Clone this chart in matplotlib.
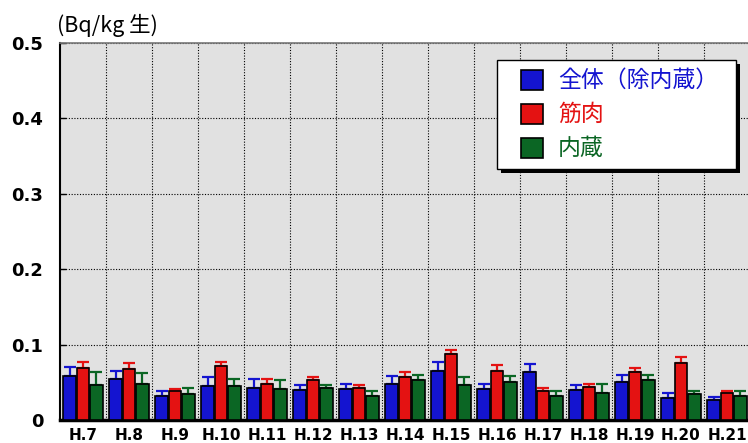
import matplotlib
matplotlib.use("Agg")
import matplotlib.pyplot as plt
from matplotlib.patches import Rectangle
import numpy as np

plt.rcParams['font.family'] = ['Noto Sans CJK JP', 'DejaVu Sans']

years = ['H.7', 'H.8', 'H.9', 'H.10', 'H.11', 'H.12', 'H.13', 'H.14',
         'H.15', 'H.16', 'H.17', 'H.18', 'H.19', 'H.20', 'H.21']

# whole body (excluding viscera)
whole = [0.058, 0.055, 0.032, 0.045, 0.042, 0.040, 0.041, 0.048,
         0.065, 0.041, 0.064, 0.040, 0.051, 0.029, 0.026]
whole_err = [0.012, 0.010, 0.006, 0.012, 0.012, 0.006, 0.007, 0.010,
             0.012, 0.007, 0.010, 0.006, 0.009, 0.007, 0.004]
# muscle
muscle = [0.069, 0.067, 0.038, 0.072, 0.048, 0.053, 0.042, 0.057,
          0.088, 0.065, 0.038, 0.044, 0.064, 0.076, 0.036]
muscle_err = [0.008, 0.008, 0.003, 0.005, 0.007, 0.004, 0.004, 0.007,
              0.005, 0.008, 0.005, 0.004, 0.005, 0.007, 0.002]
# viscera
viscera = [0.046, 0.048, 0.034, 0.045, 0.041, 0.042, 0.032, 0.053,
           0.046, 0.051, 0.032, 0.036, 0.053, 0.034, 0.032]
viscera_err = [0.018, 0.014, 0.008, 0.010, 0.012, 0.005, 0.007, 0.007,
               0.011, 0.007, 0.007, 0.012, 0.007, 0.005, 0.007]

labels = ['全体（除内蔵）', '筋肉', '内蔵']
blue, red, green = '#1414d0', '#e41212', '#0b6624'

W, H = 748, 443
fig = plt.figure(figsize=(W / 100, H / 100), dpi=100)
ax = fig.add_axes([60 / W, 1 - 420 / H, 690 / W, 377 / H])
ax.set_facecolor('#e1e1e1')

x = np.arange(len(years))
bw = 0.28
series = [(whole, whole_err, blue, -0.285),
          (muscle, muscle_err, red, 0.0),
          (viscera, viscera_err, green, 0.285)]
for vals, errs, col, off in series:
    ax.bar(x + off, vals, bw, color=col, edgecolor='black', linewidth=1.2, zorder=3)
    ax.errorbar(x + off, vals, yerr=[np.zeros(len(errs)), errs], fmt='none',
                ecolor=col, elinewidth=1.6, capsize=4, capthick=1.6, zorder=2)

ax.set_xlim(-0.5, len(years) - 0.5)
ax.set_ylim(0, 0.5)
ax.set_yticks([0, 0.1, 0.2, 0.3, 0.4, 0.5])
ax.set_yticklabels(['0', '0.1', '0.2', '0.3', '0.4', '0.5'],
                   fontfamily='DejaVu Sans', fontweight='bold', fontsize=13)
ax.set_xticks(x)
ax.set_xticklabels(years, fontfamily='DejaVu Sans', fontweight='bold', fontsize=11)
ax.set_xticks(x[:-1] + 0.5, minor=True)
ax.tick_params(axis='y', which='major', direction='in', length=4, width=1, pad=12)
ax.tick_params(axis='x', which='both', length=0, pad=6)

ax.grid(True, axis='y', which='major', color='black', linestyle=(0, (1, 1.5)), linewidth=0.8, zorder=1)
ax.grid(True, axis='x', which='minor', color='black', linestyle=(0, (1, 1.5)), linewidth=0.8, zorder=1)
ax.set_axisbelow(True)

ax.spines['left'].set_linewidth(1.5)
ax.spines['bottom'].set_linewidth(2.5)
ax.spines['top'].set_color('#777777')
ax.spines['top'].set_linewidth(1.2)
ax.spines['right'].set_visible(False)

fig.text(57 / W, 1 - 25 / H, '(Bq/kg 生)', fontsize=15.5, va='center', ha='left')


def fx(px):
    return px / W


def fy(py):
    return 1 - py / H


# legend box with drop shadow
fig.add_artist(Rectangle((fx(501), fy(173)), fx(740) - fx(501), fy(64) - fy(173),
                         transform=fig.transFigure, facecolor='black', edgecolor='none', zorder=5))
fig.add_artist(Rectangle((fx(497), fy(169)), fx(736) - fx(497), fy(60) - fy(169),
                         transform=fig.transFigure, facecolor='white', edgecolor='black',
                         linewidth=1, zorder=6))
for i, (lab, col) in enumerate(zip(labels, [blue, red, green])):
    cy = 80 + i * 34
    fig.add_artist(Rectangle((fx(521), fy(cy + 10)), fx(543) - fx(521), fy(cy - 10) - fy(cy + 10),
                             transform=fig.transFigure, facecolor=col, edgecolor='black',
                             linewidth=1.2, zorder=7))
    fig.text(fx(558), fy(cy), lab, color=col, fontsize=16.5, va='center', ha='left', zorder=8)

fig.savefig('out.png', dpi=100)
